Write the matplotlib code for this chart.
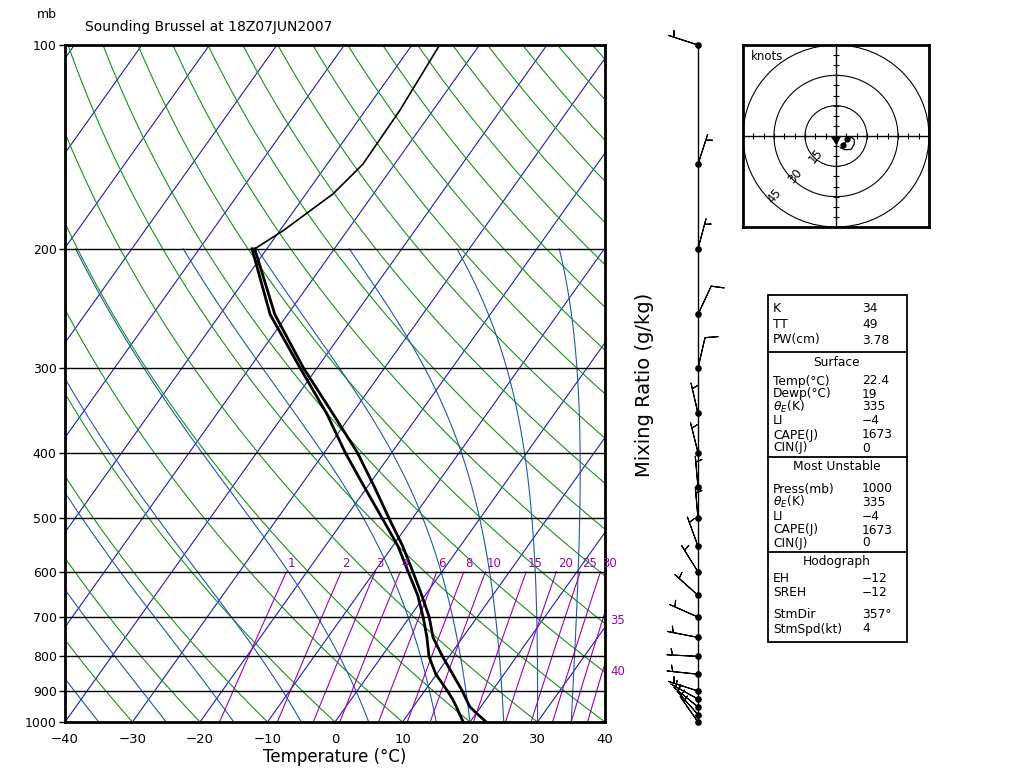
import numpy as np
import matplotlib
matplotlib.use('Agg')
import matplotlib.pyplot as plt
from matplotlib.patches import Circle, Rectangle

# ---- sounding Brussel 18Z 07 JUN 2007 ----
pres = [1000, 975, 950, 925, 900, 850, 800, 750, 700, 650, 600, 550,
        500, 450, 400, 350, 300, 250, 200]
temp = [22.4, 20.4, 18.4, 17.0, 15.6, 12.4, 9.0, 5.6, 2.9, -0.5, -4.3, -8.5,
        -13.5, -18.9, -25.1, -32.9, -42.0, -51.9, -61.8]
dewp = [19.0, 17.7, 16.4, 15.0, 13.4, 9.9, 7.0, 4.7, 2.0, -1.1, -5.0, -9.2,
        -14.5, -20.4, -26.9, -33.8, -42.5, -52.6, -62.2]

# above 200 mb only temperature
pres_top = [200, 188, 166, 150, 125, 100]
temp_top = [-61.8, -59.5, -56.0, -54.7, -54.9, -55.9]

# winds (deg, knots)
wind_p = [1000, 975, 950, 925, 900, 850, 800, 750, 700, 650, 600, 550,
          500, 450, 400, 350, 300, 250, 200, 150, 100]
wind_dir = [325, 318, 309, 299, 288, 276, 273, 281, 294, 312, 328, 340,
            355, 355, 346, 347, 13, 25, 15, 18, 288]
wind_spd = [5.7, 5.6, 5.5, 5.5, 5.6, 7.4, 7.2, 9.0, 9.7, 9.9, 8.0, 6.2,
            5.1, 5.1, 5.1, 5.1, 10.1, 10.1, 5.1, 5.1, 5.1]
hodo_top = 550          # hodograph drawn from surface up to this level
hodo_dots = [1000, 900]
storm_dir = 357
storm_spd = 4

# background lines
isotherms = np.arange(-120, 41, 10)
dry_theta = np.arange(-40, 201, 10)            # deg C
moist_tw = [-35, -25, -15, -5, 5, 15, 20, 25, 30, 35]
mix_w = [1, 2, 3, 4, 6, 8, 10, 15, 20, 25, 30, 35, 40]
isobars = [200, 300, 400, 500, 600, 700, 800, 900]
p_ticks = [100, 200, 300, 400, 500, 600, 700, 800, 900, 1000]

# index table
idx_names = ['K', 'TT', 'PW(cm)']
idx_vals = ['34', '49', '3.78']
sfc_names = ['Temp(°C)', 'Dewp(°C)', r'$\theta_E$(K)', 'LI', 'CAPE(J)', 'CIN(J)']
sfc_vals = ['22.4', '19', '335', '\u22124', '1673', '0']
mu_names = ['Press(mb)', r'$\theta_E$(K)', 'LI', 'CAPE(J)', 'CIN(J)']
mu_vals = ['1000', '335', '\u22124', '1673', '0']
hod_names = ['EH', 'SREH', 'StmDir', 'StmSpd(kt)']
hod_vals = ['\u221212', '\u221212', '357°', '4']

ISO_C = '#1c1cb4'
DRY_C = '#129612'
MOIST_C = '#1e5aa8'
MIX_C = '#a000b4'
SKEW = 71.4
W, H = 1024.0, 768.0


def skew_x(t, p):
    return np.asarray(t, float) + SKEW * np.log10(1000.0 / np.asarray(p, float))


def fig_rect(x0, y0, x1, y1):
    return [x0 / W, 1 - y1 / H, (x1 - x0) / W, (y1 - y0) / H]


def sat_vp(tc):
    return 6.112 * np.exp(17.67 * tc / (tc + 243.5))


def dew_from_e(e):
    a = np.log(e / 6.112)
    return 243.5 * a / (17.67 - a)


def dtdp(t, p):
    tc = t - 273.15
    es = sat_vp(tc)
    rs = 0.622 * es / (p - es)
    num = 287.04 * t + 2.501e6 * rs
    den = 1004.0 + (2.501e6 ** 2 * rs * 0.622) / (287.04 * t ** 2)
    return num / den / p


def moist_line(t0, pp):
    t = t0 + 273.15
    out = [t]
    for i in range(1, len(pp)):
        dp = pp[i] - pp[i - 1]
        k1 = dtdp(t, pp[i - 1])
        k2 = dtdp(t + k1 * dp / 2, pp[i - 1] + dp / 2)
        t = t + k2 * dp
        out.append(t)
    return np.array(out) - 273.15


fig = plt.figure(figsize=(10.24, 7.68), dpi=100)

# ---------------- skew-T ----------------
ax = fig.add_axes(fig_rect(65, 45, 605, 722))
p_all = np.logspace(3, 2, 200)

for t0 in isotherms:
    ax.plot(skew_x(np.full_like(p_all, t0), p_all), p_all, color=ISO_C, lw=0.8)

for th in dry_theta:
    t = (th + 273.15) * (p_all / 1000.0) ** 0.2857 - 273.15
    ax.plot(skew_x(t, p_all), p_all, color=DRY_C, lw=0.8)

p_moist = np.linspace(1000, 200, 801)
for tw in moist_tw:
    ax.plot(skew_x(moist_line(tw, p_moist), p_moist), p_moist, color=MOIST_C, lw=0.8)

p_mix = np.linspace(1000, 600, 201)
for w in mix_w:
    td = dew_from_e(w * p_mix / 622.0)
    xs = skew_x(td, p_mix)
    ax.plot(xs, p_mix, color=MIX_C, lw=0.8)
    if xs[-1] <= 40:
        ax.annotate(str(w), (xs[-1], 600), xytext=(1, 1.5), textcoords='offset points',
                    ha='left', va='bottom', fontsize=8.5, color=MIX_C, annotation_clip=False)
    else:
        p_exit = np.interp(40, xs, p_mix)
        ax.annotate(str(w), (40, p_exit), xytext=(4, -6), textcoords='offset points',
                    ha='left', va='center', fontsize=8.5, color=MIX_C, annotation_clip=False)

for p in isobars:
    ax.axhline(p, color='k', lw=1.0)

ax.plot(skew_x(temp, pres), pres, color='k', lw=2.0)
ax.plot(skew_x(dewp, pres), pres, color='k', lw=2.0)
ax.plot(skew_x(temp_top, pres_top), pres_top, color='k', lw=1.2)

ax.set_yscale('log')
ax.set_ylim(1000, 100)
ax.set_xlim(-40, 40)
ax.set_yticks(p_ticks)
ax.set_yticklabels([str(p) for p in p_ticks])
ax.minorticks_off()
ax.set_xticks(range(-40, 41, 10))
ax.tick_params(axis='y', length=4, width=1, pad=2, labelsize=9, direction='out')
ax.tick_params(axis='x', length=0, pad=8, labelsize=9.5)
for s in ax.spines.values():
    s.set_linewidth(2)
ax.set_xlabel('Temperature (°C)', fontsize=12, labelpad=1)

fig.text(85 / W, 1 - 27 / H, 'Sounding Brussel at 18Z07JUN2007', fontsize=10, va='center')
fig.text(47 / W, 1 - 15 / H, 'mb', fontsize=9, ha='center', va='center')
fig.text(645 / W, 1 - 385 / H, 'Mixing Ratio (g/kg)', rotation=90, fontsize=14,
         ha='center', va='center')

# ---------------- wind column ----------------
wd = np.radians(wind_dir)
ws = np.array(wind_spd, float)
u = -ws * np.sin(wd)
v = -ws * np.cos(wd)

axw = fig.add_axes(fig_rect(640, 45, 756, 722))
axw.set_yscale('log')
axw.set_ylim(1000, 100)
axw.set_xlim(-1, 1)
axw.axis('off')
axw.plot([0, 0], [1000, 100], color='k', lw=1.0, clip_on=False)
axw.barbs(np.zeros(len(wind_p)), wind_p, u, v, length=6.7, linewidth=0.8,
          rounding=False, color='k', clip_on=False)
axw.plot(np.zeros(len(wind_p)), wind_p, 'ko', ms=3.8, clip_on=False)

# ---------------- hodograph ----------------
axh = fig.add_axes(fig_rect(743, 45, 929, 227))
axh.set_xlim(-45, 45)
axh.set_ylim(-45, 45)
axh.set_xticks([])
axh.set_yticks([])
for s in axh.spines.values():
    s.set_linewidth(2)
for r in [15, 30, 45]:
    axh.add_patch(Circle((0, 0), r, fill=False, lw=0.8, ec='k'))
    ang = np.radians(225)
    axh.text(0.93 * r * np.cos(ang), 0.93 * r * np.sin(ang), str(r), rotation=50,
             ha='center', va='center', fontsize=8.5)
axh.axhline(0, color='k', lw=1.0)
axh.axvline(0, color='k', lw=1.0)
tk = np.array([t for t in range(-45, 46, 5) if t != 0])
axh.plot(tk, np.zeros(len(tk)), '|', color='k', ms=4, mew=0.8)
axh.plot(np.zeros(len(tk)), tk, '_', color='k', ms=4, mew=0.8)
axh.text(0.04, 0.97, 'knots', transform=axh.transAxes, ha='left', va='top', fontsize=8.5)

sel = [i for i, p in enumerate(wind_p) if p >= hodo_top]
axh.plot(u[sel], v[sel], color='k', lw=0.9)
dsel = [wind_p.index(p) for p in hodo_dots]
axh.plot(u[dsel], v[dsel], 'ko', ms=3.5)
su = -storm_spd * np.sin(np.radians(storm_dir))
sv = -storm_spd * np.cos(np.radians(storm_dir))
axh.arrow(0, 0, su, sv, width=0.2, head_width=4.0, head_length=3.6,
          length_includes_head=True, color='k')

# ---------------- index table ----------------
axt = fig.add_axes([0, 0, 1, 1])
axt.set_xlim(0, W)
axt.set_ylim(H, 0)
axt.axis('off')
axt.add_patch(Rectangle((768, 295), 139, 347, fill=False, lw=1.3, ec='k'))
for y in [352, 457, 552]:
    axt.plot([768, 907], [y, y], color='k', lw=1.3)

tx0, tx1, fs = 773, 862, 8.8


def rows(names, vals, ys):
    for n, val, y in zip(names, vals, ys):
        axt.text(tx0, y, n, fontsize=fs, va='center', ha='left')
        axt.text(tx1, y, val, fontsize=fs, va='center', ha='left')


rows(idx_names, idx_vals, [308, 325, 340])
axt.text(837, 363, 'Surface', fontsize=fs, ha='center', va='center')
rows(sfc_names, sfc_vals, [381, 394, 407, 421, 435, 448])
axt.text(837, 467, 'Most Unstable', fontsize=fs, ha='center', va='center')
rows(mu_names, mu_vals, [489, 502, 516, 530, 543])
axt.text(837, 562, 'Hodograph', fontsize=fs, ha='center', va='center')
rows(hod_names, hod_vals, [578, 592, 615, 629])

fig.savefig('out.png', dpi=100)
